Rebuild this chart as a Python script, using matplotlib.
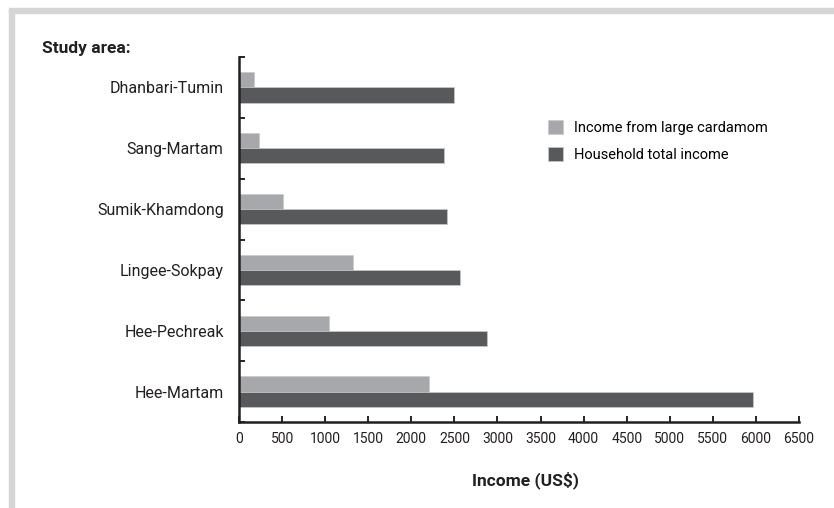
import numpy as np
import matplotlib
matplotlib.use("Agg")
import matplotlib.pyplot as plt
from matplotlib.patches import Rectangle

# Data, top to bottom
areas = ["Dhanbari-Tumin", "Sang-Martam", "Sumik-Khamdong",
         "Lingee-Sokpay", "Hee-Pechreak", "Hee-Martam"]
cardamom_income = [173, 231, 509, 1321, 1039, 2207]
total_income = [2501, 2381, 2416, 2567, 2876, 5970]
x_ticks = list(range(0, 6501, 500))

LIGHT = "#a7a8ab"
DARK = "#58595b"
INK = "#231f20"

plt.rcParams["font.family"] = ["Roboto", "DejaVu Sans"]

W, H = 834, 508
fig = plt.figure(figsize=(W / 100, H / 100), dpi=100)

# light grey frame along top and left
fig.patches.append(Rectangle((9 / W, 0), 5 / W, 1 - 9 / H, transform=fig.transFigure,
                             color="#d5d5d5", zorder=0))
fig.patches.append(Rectangle((9 / W, 1 - 13 / H), 1 - 9 / W, 5 / H,
                             transform=fig.transFigure, color="#d5d5d5", zorder=0))

ax = fig.add_axes([239 / W, 1 - 422 / H, (799 - 239) / W, (422 - 57) / H])

n = len(areas)
y = np.arange(n)[::-1].astype(float)  # top category at highest y
h = 0.25
ax.barh(y + h / 2, cardamom_income, height=h, color=LIGHT,
        edgecolor="#c9cacc", linewidth=0.5, label="Income from large cardamom")
ax.barh(y - h / 2, total_income, height=h, color=DARK,
        edgecolor="#c9cacc", linewidth=0.5, label="Household total income")

ax.set_xlim(0, 6500)
ax.set_ylim(-0.5, n - 0.5)
ax.set_xticks(x_ticks)
ax.set_xticklabels([str(v) for v in x_ticks], fontsize=10, color=INK)
ax.set_yticks(y)
ax.set_yticklabels(areas, fontsize=11.5, color=INK)
ax.set_yticks(np.arange(n + 1) - 0.5, minor=True)

ax.tick_params(axis="y", which="major", length=0, pad=11)
ax.tick_params(axis="y", which="minor", direction="in", length=4, width=1.2)
ax.tick_params(axis="x", direction="in", length=4, width=1.2, pad=7)

for s in ["top", "right"]:
    ax.spines[s].set_visible(False)
for s in ["left", "bottom"]:
    ax.spines[s].set_linewidth(1.8)
    ax.spines[s].set_color(INK)

ax.set_xlabel("Income (US$)", fontsize=12.5, fontweight="bold", color=INK)
ax.xaxis.set_label_coords((525 - 239) / (799 - 239), -(480 - 422) / (422 - 57))
ax.xaxis.label.set_va("center")
fig.text(42 / W, 1 - 49 / H, "Study area:", fontsize=12.5, fontweight="bold",
         color=INK, va="center", ha="left")

ax.legend(loc="upper left",
          bbox_to_anchor=((548 - 239) / (799 - 239), 1 - (120 - 57) / (422 - 57)),
          frameon=False, fontsize=10.5, handlelength=1.05, handleheight=1.05,
          handletextpad=0.75, labelspacing=0.85, borderaxespad=0, borderpad=0)

plt.savefig("out.png", dpi=100)
